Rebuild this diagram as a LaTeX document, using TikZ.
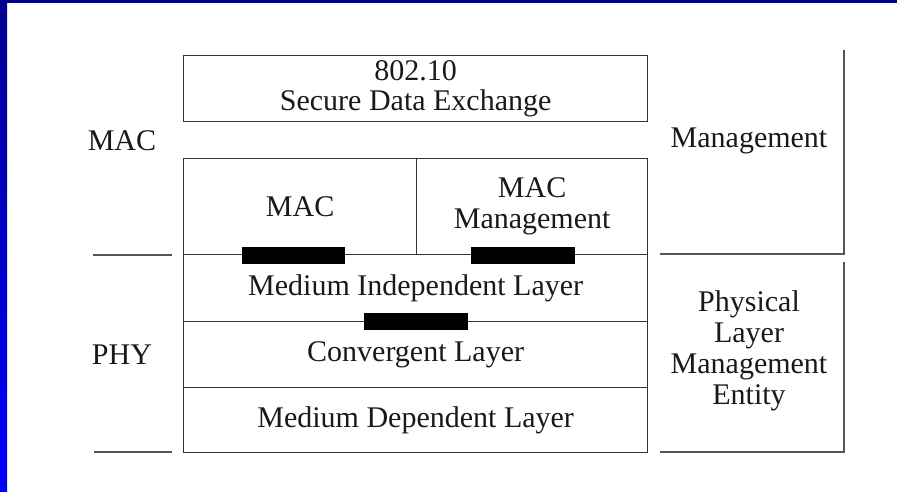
\documentclass[tikz,border=0pt]{standalone}
\usepackage{fontspec}
\setmainfont{Liberation Serif}
\definecolor{navy}{HTML}{000090}
\definecolor{brightblue}{HTML}{0000FF}
\definecolor{ln}{HTML}{333333}
\definecolor{lnlight}{HTML}{555555}
\begin{document}
\begin{tikzpicture}[x=1pt,y=-1pt,
  every node/.style={font=\fontsize{30}{30}\selectfont, text=black!90, inner sep=0pt},
  cell/.style={draw=ln, line width=1.3pt, anchor=north west, align=center},
  bar/.style={fill=black, draw=none},
  sep/.style={draw=lnlight, line width=1.8pt},
  lbl/.style={align=center},
  wide/.style={font=\fontsize{30}{31}\selectfont}]
\useasboundingbox (0,0) rectangle (897,491);
% blue frame
\shade[top color=navy, bottom color=brightblue] (0,0) rectangle (7,491);
\fill[navy] (0,0) rectangle (897,3);
% top box
\node[cell, minimum width=464pt, minimum height=66pt] (sde) at (183,55) {802.10\\Secure Data Exchange};
% stack
\node[cell, minimum width=233pt, minimum height=96pt] (mac) at (183,158) {MAC};
\node[cell, wide, minimum width=231pt, minimum height=96pt] (macm) at (416,158) {MAC\\Management};
\node[cell, minimum width=464pt, minimum height=67pt] (mil) at (183,254) {Medium Independent Layer};
\node[cell, minimum width=464pt, minimum height=66pt] (cl) at (183,321) {Convergent Layer};
\node[cell, minimum width=464pt, minimum height=65pt] (mdl) at (183,387) {Medium Dependent Layer};
% service access bars
\fill[bar] (242,246.5) rectangle (345,264);
\fill[bar] (471,246.5) rectangle (575,264);
\fill[bar] (364,313) rectangle (468,330);
% side labels
\node[lbl] (lmac) at (122,141) {MAC};
\node[lbl] (lphy) at (122,355) {PHY};
\node[lbl] (mgmt) at (749,141) {Management};
\node[lbl, wide] (plme) at (749,351) {Physical\\Layer\\Management\\Entity};
% separator lines
\coordinate (l1a) at (93,255); \coordinate (l1b) at (172,255);
\coordinate (l2a) at (94,452); \coordinate (l2b) at (172,452);
\draw[sep] (l1a) -- (l1b);
\draw[sep] (l2a) -- (l2b);
\coordinate (r1) at (844,50); \coordinate (r2) at (844,254); \coordinate (r3) at (660,254);
\coordinate (r4) at (844,262); \coordinate (r5) at (844,452); \coordinate (r6) at (660,452);
\draw[sep] (r1) -- (r2) -- (r3);
\draw[sep] (r4) -- (r5) -- (r6);
\end{tikzpicture}
\end{document}
